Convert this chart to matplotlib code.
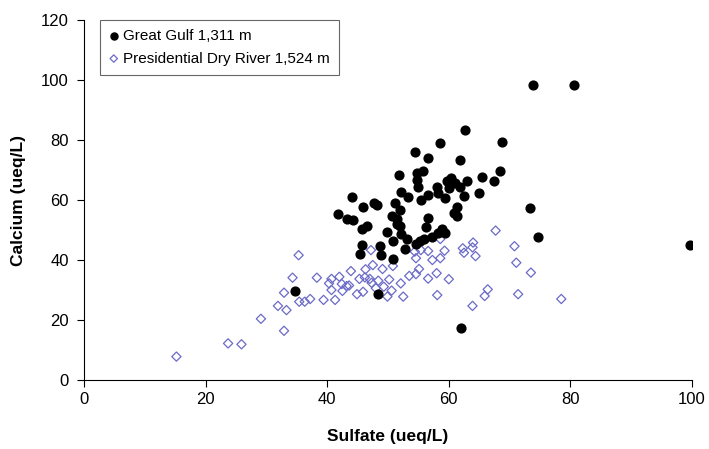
import matplotlib
matplotlib.use("Agg")
import matplotlib.pyplot as plt

plt.rcParams['font.family'] = ['Liberation Sans', 'DejaVu Sans']

# Great Gulf 1,311 m  (sulfate, calcium)
gg_x = [73.8, 80.6, 62.7, 68.7, 58.6, 54.4, 56.5, 61.9, 55.8, 54.8, 51.8, 68.5,
        65.5, 67.5, 54.7, 54.9, 59.7, 60.3, 61.0, 61.8, 63.0, 58.0, 60.0, 52.2,
        53.3, 56.6, 55.4, 58.3, 59.3, 62.5, 65.0, 44.1, 45.9, 47.7, 48.2, 51.2,
        51.9, 41.7, 43.2, 44.2, 50.6, 51.4, 56.6, 61.3, 60.9, 61.4, 73.4, 74.7,
        46.5, 45.8, 51.4, 52.0, 56.2, 49.9, 52.1, 58.8, 58.3, 59.4, 57.3, 56.0,
        55.3, 53.2, 50.9, 45.8, 48.7, 54.6, 52.8, 45.4, 48.8, 50.8, 48.4, 62.0,
        34.7, 99.6]
gg_y = [98.4, 98.4, 83.2, 79.3, 78.9, 75.9, 74.1, 73.3, 69.8, 68.9, 68.3, 69.8,
        67.8, 66.4, 66.7, 64.4, 66.3, 67.2, 65.8, 64.4, 66.2, 64.4, 63.9, 62.8,
        61.1, 61.7, 60.0, 62.2, 60.6, 61.3, 62.2, 60.9, 57.6, 58.9, 58.3, 58.9,
        56.7, 55.3, 53.7, 53.3, 54.7, 53.7, 54.1, 57.6, 55.6, 54.8, 57.2, 47.6,
        51.3, 50.3, 52.0, 51.3, 50.9, 49.2, 48.7, 50.2, 49.1, 48.9, 47.6, 47.0,
        46.4, 46.9, 46.4, 45.0, 44.7, 45.3, 43.7, 42.0, 41.6, 40.2, 28.6, 17.2,
        29.7, 45.1]

# Presidential Dry River 1,524 m
pdr_x = [67.7, 35.3, 58.6, 64.0, 62.3, 63.9, 62.5, 64.4, 70.8, 71.1, 73.5, 59.3,
         58.6, 57.3, 56.6, 55.4, 54.4, 54.6, 47.2, 47.5, 49.1, 50.8, 46.3, 43.9,
         38.3, 40.7, 42.0, 40.3, 42.4, 43.2, 40.7, 42.5, 45.3, 46.2, 47.0, 47.3,
         48.4, 50.2, 49.3, 48.0, 44.9, 45.9, 50.6, 49.9, 52.5, 52.1, 53.5, 54.6,
         55.1, 56.6, 58.0, 60.0, 58.1, 63.9, 65.9, 66.4, 71.4, 39.4, 41.3, 37.2,
         36.3, 78.5, 15.2, 23.7, 25.9, 29.1, 32.9, 31.9, 33.3, 32.9, 34.3, 35.4,
         43.6]
pdr_y = [49.8, 41.6, 47.0, 45.8, 43.9, 44.2, 42.4, 41.3, 44.6, 39.1, 35.8, 43.1,
         40.6, 40.0, 43.0, 43.3, 42.8, 40.6, 43.3, 38.3, 37.0, 38.0, 36.9, 36.3,
         34.1, 33.7, 34.4, 32.2, 32.0, 31.3, 30.0, 29.7, 33.7, 34.2, 33.7, 32.4,
         33.1, 33.5, 31.1, 30.6, 28.6, 29.4, 29.8, 27.8, 27.8, 32.2, 34.7, 35.3,
         37.0, 33.8, 35.6, 33.6, 28.3, 24.7, 28.0, 30.2, 28.6, 26.7, 26.7, 27.0,
         26.1, 27.0, 7.8, 12.2, 11.9, 20.4, 16.4, 24.7, 23.3, 29.1, 34.1, 26.1,
         31.5]

x_ticks = [0, 20, 40, 60, 80, 100]
y_ticks = [0, 20, 40, 60, 80, 100, 120]

fig = plt.figure(figsize=(7.09, 4.49), dpi=100)
ax = fig.add_axes([84/709, 1-380/449, (692-84)/709, (380-20)/449])

ax.scatter(pdr_x, pdr_y, marker='D', s=22, facecolors='none',
           edgecolors='#6B6BC8', linewidths=0.9,
           label='Presidential Dry River 1,524 m', zorder=2)
ax.scatter(gg_x, gg_y, marker='o', s=40, color='black',
           label='Great Gulf 1,311 m', zorder=3)

ax.set_xlim(0, 100)
ax.set_ylim(0, 120)
ax.set_xticks(x_ticks)
ax.set_yticks(y_ticks)
ax.tick_params(direction='out', length=5, width=0.8, labelsize=12, colors='black')
ax.tick_params(axis='y', pad=6)
for s in ['top', 'right']:
    ax.spines[s].set_visible(False)
for s in ['left', 'bottom']:
    ax.spines[s].set_linewidth(0.8)

ax.set_xlabel('Sulfate (ueq/L)', fontsize=12.5, fontweight='bold', labelpad=16)
ax.set_ylabel('Calcium (ueq/L)', fontsize=12.5, fontweight='bold', labelpad=11)

handles, labels = ax.get_legend_handles_labels()
leg = ax.legend(handles[::-1], labels[::-1], loc='upper left',
                bbox_to_anchor=((100-84)/608, 1.0), fontsize=11,
                frameon=True, fancybox=False, edgecolor='#404040',
                handlelength=0.6, handletextpad=0.3, borderpad=0.6,
                labelspacing=0.55, markerscale=0.8, borderaxespad=0)
leg.get_frame().set_linewidth(0.8)

fig.savefig('out.png', dpi=100)
